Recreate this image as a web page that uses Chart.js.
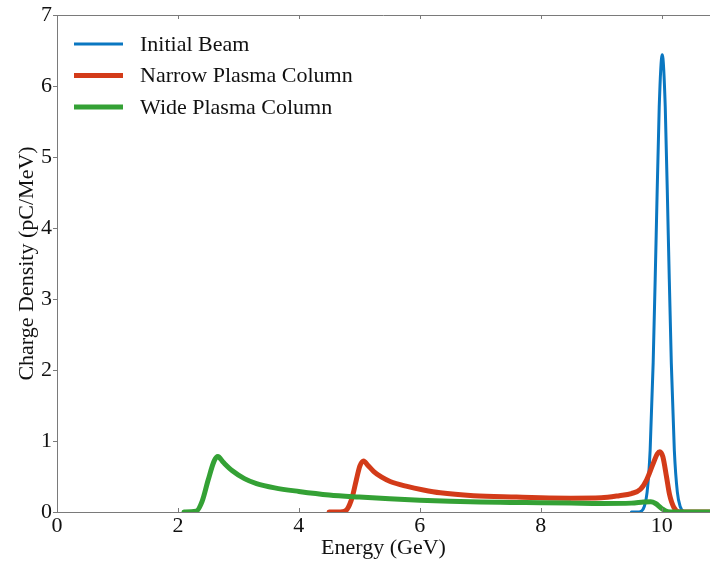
<!DOCTYPE html>
<html>
<head>
<meta charset="utf-8">
<script src="https://cdn.jsdelivr.net/npm/chart.js@4.4.1/dist/chart.umd.min.js"></script>
<style>
  html, body { margin: 0; padding: 0; background: #fff; }
  canvas { display: block; }
</style>
</head>
<body>
<canvas id="spectrum" width="710" height="561"></canvas>
<script>
// Energy spectra (GeV vs pC/MeV)
const beamE = [9.5, 9.6, 9.66, 9.71, 9.76, 9.81, 9.86, 9.91, 9.96, 10.01, 10.06, 10.11, 10.16, 10.21, 10.26, 10.31, 10.36, 10.42];
const beamQ = [0, 0, 0.01, 0.07, 0.28, 0.87, 2.1, 3.9, 5.7, 6.44, 5.7, 3.9, 2.1, 0.87, 0.28, 0.07, 0.01, 0];

const narrowE = [4.5, 4.72, 4.8, 4.88, 4.95, 5.01, 5.07, 5.14, 5.24, 5.37, 5.51, 5.79, 6.06, 6.34, 6.89, 7.6, 8.0, 8.5, 9.0, 9.3, 9.5, 9.65, 9.75, 9.85, 9.93, 9.97, 10.02, 10.08, 10.13, 10.2, 10.3, 10.8];
const narrowQ = [0, 0.005, 0.04, 0.2, 0.45, 0.65, 0.72, 0.66, 0.57, 0.49, 0.43, 0.36, 0.31, 0.27, 0.23, 0.21, 0.2, 0.195, 0.2, 0.23, 0.26, 0.32, 0.45, 0.66, 0.82, 0.85, 0.78, 0.5, 0.25, 0.07, 0, 0];

const wideE = [2.1, 2.3, 2.4, 2.5, 2.6, 2.66, 2.75, 2.9, 3.1, 3.3, 3.6, 4.0, 4.5, 5.0, 5.5, 6.0, 6.5, 7.0, 7.5, 8.0, 8.5, 9.0, 9.5, 9.7, 9.82, 9.9, 10.0, 10.1, 10.2, 10.8];
const wideQ = [0, 0.01, 0.15, 0.45, 0.72, 0.78, 0.7, 0.58, 0.47, 0.4, 0.34, 0.29, 0.24, 0.21, 0.185, 0.165, 0.15, 0.14, 0.135, 0.13, 0.125, 0.12, 0.125, 0.14, 0.145, 0.12, 0.05, 0.005, 0, 0];

const xTicks = [0, 2, 4, 6, 8, 10];
const yTicks = [0, 1, 2, 3, 4, 5, 6, 7];

const seriesNames = ['Initial Beam', 'Narrow Plasma Column', 'Wide Plasma Column'];

const serif = '"Liberation Serif", "Times New Roman", serif';
const axisGray = '#7a7a7a';

function toPoints(xs, ys) {
  return xs.map((x, i) => ({ x: x, y: ys[i] }));
}

// legend in the top-left corner of the plot
const cornerLegend = {
  id: 'cornerLegend',
  afterDraw(chart) {
    const ctx = chart.ctx;
    const area = chart.chartArea;
    ctx.save();
    ctx.font = '22px ' + serif;
    ctx.fillStyle = '#111';
    ctx.textBaseline = 'middle';
    chart.data.datasets.forEach((ds, i) => {
      const y = area.top + 29 + i * 31.5;
      ctx.strokeStyle = ds.borderColor;
      ctx.lineWidth = ds.borderWidth;
      ctx.beginPath();
      ctx.moveTo(area.left + 17, y);
      ctx.lineTo(area.left + 66, y);
      ctx.stroke();
      ctx.fillText(ds.label, area.left + 83, y + 1);
    });
    ctx.restore();
  }
};

// top frame line and inward x ticks
const frame = {
  id: 'frame',
  afterDraw(chart) {
    const ctx = chart.ctx;
    const area = chart.chartArea;
    const xs = chart.scales.x;
    ctx.save();
    ctx.strokeStyle = axisGray;
    ctx.lineWidth = 1;
    ctx.beginPath();
    ctx.moveTo(area.left, area.top + 0.5);
    ctx.lineTo(area.right, area.top + 0.5);
    xTicks.forEach(v => {
      const px = Math.round(xs.getPixelForValue(v)) + 0.5;
      ctx.moveTo(px, area.top);
      ctx.lineTo(px, area.top + 4);
      ctx.moveTo(px, area.bottom);
      ctx.lineTo(px, area.bottom - 4);
    });
    ctx.stroke();
    ctx.restore();
  }
};

new Chart(document.getElementById('spectrum'), {
  type: 'line',
  data: {
    datasets: [
      {
        label: seriesNames[0],
        data: toPoints(beamE, beamQ),
        borderColor: '#0a77c1',
        borderWidth: 3,
        order: 2
      },
      {
        label: seriesNames[1],
        data: toPoints(narrowE, narrowQ),
        borderColor: '#d33b19',
        borderWidth: 5,
        order: 1
      },
      {
        label: seriesNames[2],
        data: toPoints(wideE, wideQ),
        borderColor: '#34a135',
        borderWidth: 5,
        order: 0
      }
    ]
  },
  options: {
    responsive: false,
    animation: false,
    layout: { padding: { top: 15, right: 0, left: 0, bottom: 0 } },
    elements: {
      point: { radius: 0 },
      line: { cubicInterpolationMode: 'monotone', borderJoinStyle: 'round', borderCapStyle: 'round' }
    },
    plugins: {
      legend: { display: false },
      tooltip: { enabled: false }
    },
    scales: {
      x: {
        type: 'linear',
        min: 0,
        max: 10.8,
        afterBuildTicks: s => { s.ticks = xTicks.map(v => ({ value: v })); },
        afterFit: s => { s.height = 49; },
        border: { color: axisGray, width: 1 },
        grid: { display: true, drawOnChartArea: false, drawTicks: false, color: axisGray },
        ticks: { padding: 1, color: '#111', font: { family: serif, size: 22 } },
        title: {
          display: true,
          text: 'Energy (GeV)',
          color: '#111',
          font: { family: serif, size: 22 },
          padding: { top: 0, bottom: 0 }
        }
      },
      y: {
        min: 0,
        max: 7,
        afterBuildTicks: s => { s.ticks = yTicks.map(v => ({ value: v })); },
        afterFit: s => { s.width = 57; },
        border: { color: axisGray, width: 1 },
        grid: { display: true, drawOnChartArea: false, drawTicks: true, tickLength: 4, color: axisGray },
        ticks: { padding: 1, color: '#111', font: { family: serif, size: 22 } },
        title: {
          display: true,
          text: 'Charge Density (pC/MeV)',
          color: '#111',
          font: { family: serif, size: 22 },
          padding: { top: 14, bottom: 0 }
        }
      }
    }
  },
  plugins: [cornerLegend, frame]
});
</script>
</body>
</html>
